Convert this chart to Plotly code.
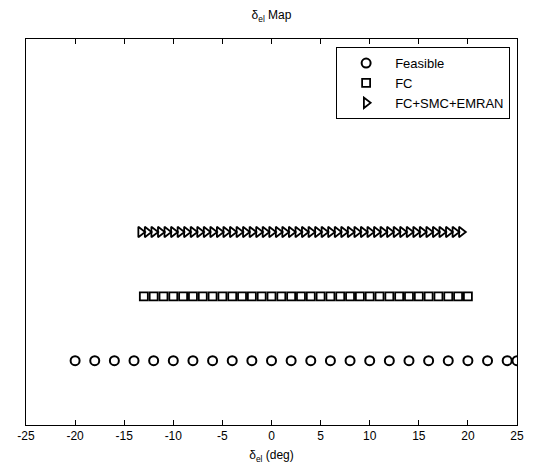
import plotly.graph_objects as go

# Elevator deflection samples (deg) for each configuration
feasible_x = [-20, -18, -16, -14, -12, -10, -8, -6, -4, -2, 0, 2, 4, 6, 8, 10,
              12, 14, 16, 18, 20, 22, 24, 25]
fc_x = [-13, -12, -11, -10, -9, -8, -7, -6, -5, -4, -3, -2, -1, 0, 1, 2, 3, 4,
        5, 6, 7, 8, 9, 10, 11, 12, 13, 14, 15, 16, 17, 18, 19, 20]
emran_x = [-13.33, -12.67, -12.0, -11.33, -10.67, -10.0, -9.33, -8.67, -8.0,
           -7.33, -6.67, -6.0, -5.33, -4.67, -4.0, -3.33, -2.67, -2.0, -1.33,
           -0.67, 0.0, 0.67, 1.33, 2.0, 2.67, 3.33, 4.0, 4.67, 5.33, 6.0, 6.67,
           7.33, 8.0, 8.67, 9.33, 10.0, 10.67, 11.33, 12.0, 12.67, 13.33, 14.0,
           14.67, 15.33, 16.0, 16.67, 17.33, 18.0, 18.67, 19.33]

# Row level for each configuration
feasible_level = 1
fc_level = 2
emran_level = 3

x_ticks = [-25, -20, -15, -10, -5, 0, 5, 10, 15, 20, 25]

FONT = "Liberation Sans, Arial, Helvetica, sans-serif"

fig = go.Figure()
fig.add_trace(go.Scatter(
    x=feasible_x, y=[feasible_level] * len(feasible_x), mode="markers",
    name="Feasible",
    marker=dict(symbol="circle-open", size=9, color="black",
                line=dict(width=2, color="black")),
))
fig.add_trace(go.Scatter(
    x=fc_x, y=[fc_level] * len(fc_x), mode="markers", name="FC",
    marker=dict(symbol="square-open", size=8, color="black",
                line=dict(width=1.8, color="black")),
))
fig.add_trace(go.Scatter(
    x=emran_x, y=[emran_level] * len(emran_x), mode="markers",
    name="FC+SMC+EMRAN",
    marker=dict(symbol="triangle-right-open", size=9, color="black",
                line=dict(width=1.8, color="black")),
))

fig.update_layout(
    width=536, height=472,
    margin=dict(l=26, r=18, t=39, b=45),
    paper_bgcolor="white", plot_bgcolor="white",
    font=dict(family=FONT, size=12, color="black"),
    title=dict(text="δ<sub>el</sub> Map", x=0.5, xref="paper", xanchor="center",
               y=1 - 15 / 472, yanchor="middle",
               font=dict(family=FONT, size=12, color="black")),
    showlegend=True,
    legend=dict(x=0.986, y=0.979, xanchor="right", yanchor="top",
                bgcolor="white", bordercolor="black", borderwidth=1,
                font=dict(family=FONT, size=13, color="black"),
                tracegroupgap=0, itemwidth=48),
    xaxis=dict(range=[-25, 25], tickvals=x_ticks,
               ticktext=[str(v) for v in x_ticks],
               ticks="inside", ticklen=5, tickcolor="black", tickwidth=1,
               showline=True, linecolor="black", linewidth=1, mirror="ticks",
               showgrid=False, zeroline=False,
               title=dict(text="δ<sub>el</sub> (deg)", standoff=8,
                          font=dict(family=FONT, size=12))),
    yaxis=dict(range=[0, 6], showticklabels=False, ticks="",
               showline=True, linecolor="black", linewidth=1, mirror=True,
               showgrid=False, zeroline=False),
)

fig.write_html("out.html")
